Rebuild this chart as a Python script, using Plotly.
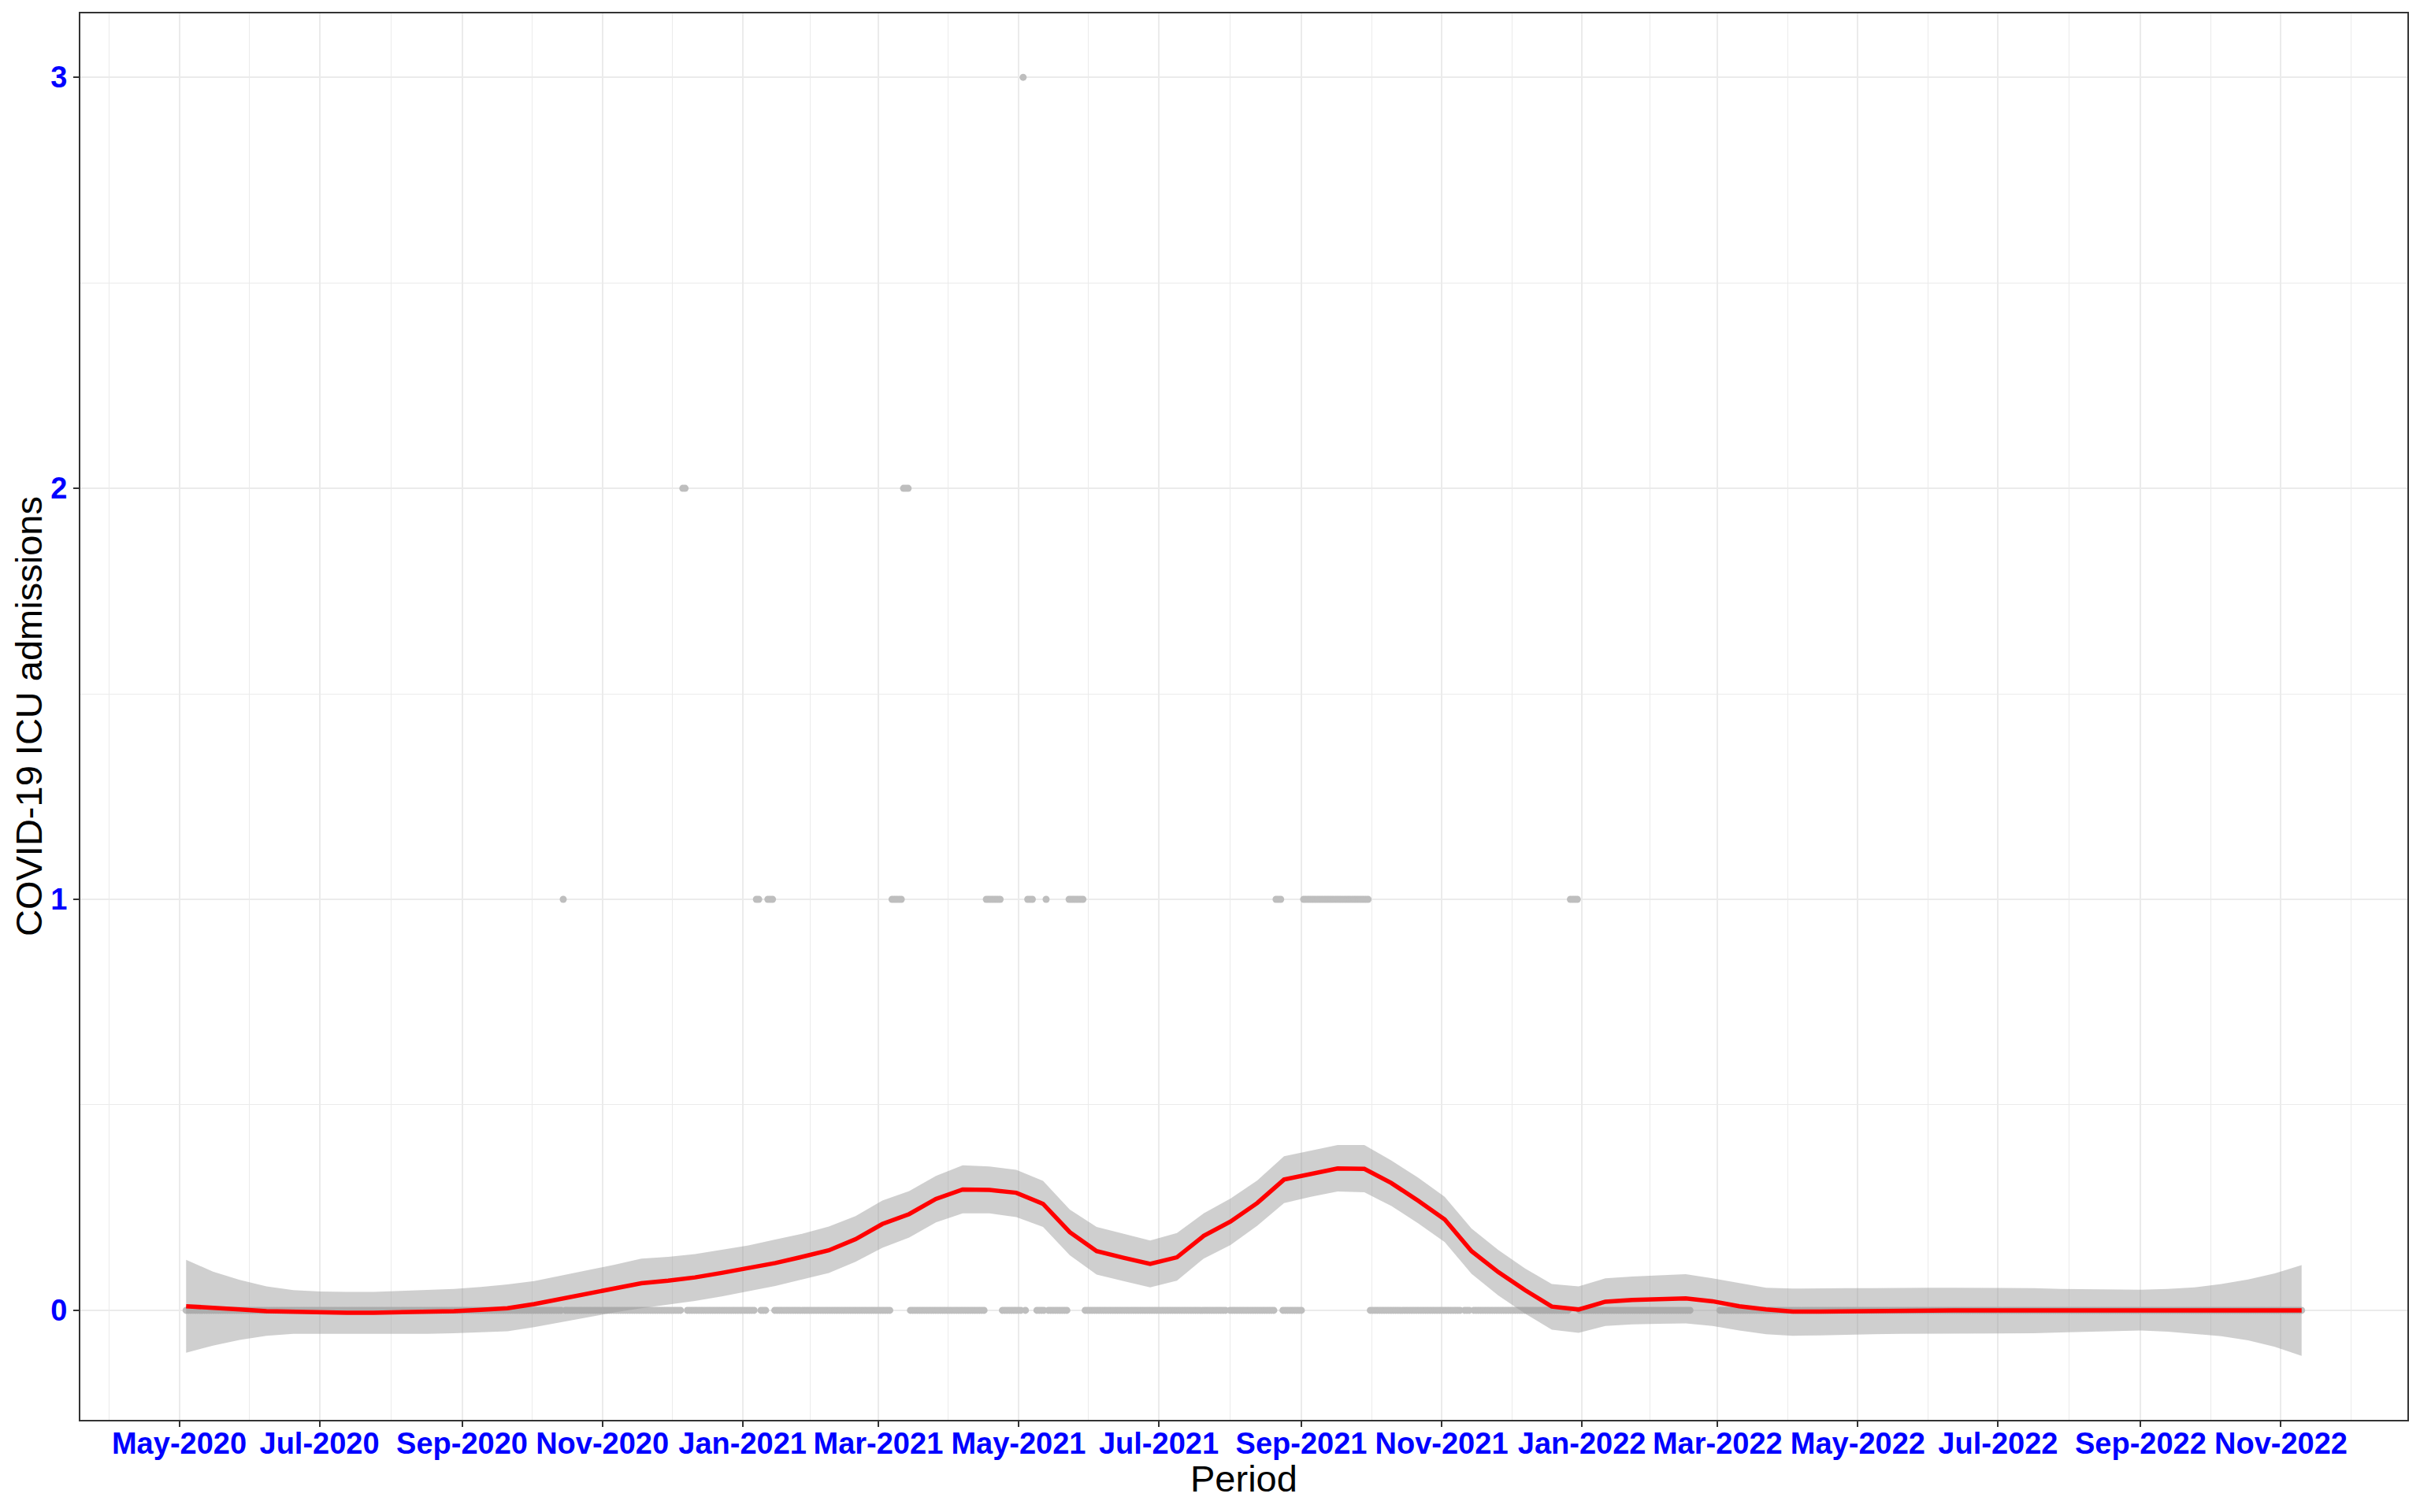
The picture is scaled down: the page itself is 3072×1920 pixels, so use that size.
import pandas as pd
import plotly.graph_objects as go

# ---------------- data ----------------
# Daily observations, given as runs of consecutive days with the same value
runs_start = ["2020-05-04", "2020-10-15", "2020-10-16", "2020-12-06", "2020-12-08",
              "2021-01-07", "2021-01-09", "2021-01-12", "2021-01-15", "2021-03-07",
              "2021-03-12", "2021-03-15", "2021-04-17", "2021-04-24", "2021-05-03",
              "2021-05-04", "2021-05-05", "2021-05-09", "2021-05-13", "2021-05-14",
              "2021-05-23", "2021-05-30", "2021-08-01", "2021-08-21", "2021-08-24",
              "2021-09-02", "2021-10-01", "2021-11-11", "2021-11-15", "2021-12-27",
              "2021-12-31", "2022-03-02"]
runs_end = ["2020-10-14", "2020-10-15", "2020-12-05", "2020-12-07", "2021-01-06",
            "2021-01-08", "2021-01-11", "2021-01-14", "2021-03-06", "2021-03-11",
            "2021-03-14", "2021-04-16", "2021-04-23", "2021-05-02", "2021-05-03",
            "2021-05-04", "2021-05-07", "2021-05-12", "2021-05-13", "2021-05-22",
            "2021-05-29", "2021-07-30", "2021-08-20", "2021-08-23", "2021-09-01",
            "2021-09-30", "2021-11-09", "2021-11-13", "2021-12-26", "2021-12-30",
            "2022-02-17", "2022-11-10"]
runs_value = [0, 1, 0, 2, 0,
              1, 0, 1, 0, 1,
              2, 0, 1, 0, 3,
              0, 1, 0, 1, 0,
              1, 0, 0, 1, 0,
              1, 0, 0, 0, 1,
              0, 0]

# Loess smooth (80 evaluation points between first and last date)
smooth_start = "2020-05-04"
smooth_end = "2022-11-10"
smooth_fit = [0.010, 0.005, 0.002, -0.002, -0.004, -0.005, -0.006, -0.006, -0.005, -0.004,
              -0.002, 0.001, 0.005, 0.015, 0.028, 0.040, 0.054, 0.066, 0.072, 0.080,
              0.091, 0.102, 0.115, 0.130, 0.146, 0.173, 0.210, 0.234, 0.271, 0.294,
              0.293, 0.286, 0.259, 0.190, 0.144, 0.128, 0.113, 0.129, 0.181, 0.216,
              0.261, 0.318, 0.332, 0.345, 0.344, 0.310, 0.267, 0.221, 0.144, 0.093,
              0.049, 0.009, 0.002, 0.021, 0.025, 0.027, 0.029, 0.022, 0.010, 0.002,
              -0.003, -0.003, -0.002, -0.002, -0.001, 0.000, 0.000, 0.000, 0.000, 0.000,
              0.000, 0.000, 0.000, 0.000, 0.000, 0.000, 0.000, 0.000, 0.000, 0.000]
smooth_lower = [-0.103, -0.086, -0.072, -0.062, -0.057, -0.057, -0.058, -0.058, -0.058, -0.057,
                -0.056, -0.054, -0.051, -0.041, -0.029, -0.017, -0.005, 0.005, 0.014, 0.023,
                0.034, 0.046, 0.059, 0.075, 0.091, 0.118, 0.152, 0.177, 0.214, 0.236,
                0.236, 0.227, 0.203, 0.134, 0.087, 0.071, 0.056, 0.072, 0.126, 0.159,
                0.206, 0.261, 0.276, 0.289, 0.287, 0.254, 0.212, 0.166, 0.089, 0.036,
                -0.008, -0.047, -0.055, -0.038, -0.034, -0.033, -0.032, -0.038, -0.049, -0.058,
                -0.062, -0.061, -0.059, -0.058, -0.057, -0.057, -0.057, -0.057, -0.057, -0.056,
                -0.054, -0.052, -0.050, -0.049, -0.052, -0.057, -0.063, -0.073, -0.089, -0.111]
smooth_upper = [0.123, 0.094, 0.074, 0.058, 0.049, 0.046, 0.045, 0.045, 0.047, 0.049,
                0.052, 0.057, 0.063, 0.071, 0.084, 0.097, 0.111, 0.126, 0.130, 0.137,
                0.148, 0.158, 0.172, 0.186, 0.204, 0.229, 0.267, 0.290, 0.327, 0.353,
                0.350, 0.342, 0.315, 0.245, 0.203, 0.187, 0.170, 0.188, 0.236, 0.272,
                0.316, 0.375, 0.389, 0.402, 0.402, 0.365, 0.323, 0.276, 0.199, 0.147,
                0.102, 0.064, 0.058, 0.078, 0.082, 0.085, 0.088, 0.078, 0.066, 0.055,
                0.053, 0.054, 0.054, 0.054, 0.055, 0.055, 0.055, 0.055, 0.054, 0.054,
                0.052, 0.051, 0.050, 0.050, 0.052, 0.056, 0.064, 0.075, 0.090, 0.110]

x_title = "Period"
y_title = "COVID-19 ICU admissions"
y_ticks = [0, 1, 2, 3]

# ---------------- build traces ----------------
pt_dates, pt_vals = [], []
for s, e, v in zip(runs_start, runs_end, runs_value):
    for d in pd.date_range(s, e, freq="D"):
        pt_dates.append(d)
        pt_vals.append(v)

sm_dates = pd.date_range(smooth_start, smooth_end, periods=len(smooth_fit))

fig = go.Figure()
fig.add_trace(go.Scatter(x=pt_dates, y=pt_vals, mode="markers",
                         marker=dict(color="#BEBEBE", size=9, line=dict(width=0)),
                         hoverinfo="x+y"))
fig.add_trace(go.Scatter(x=sm_dates, y=smooth_upper, mode="lines",
                         line=dict(width=0, color="rgba(0,0,0,0)"), hoverinfo="skip"))
fig.add_trace(go.Scatter(x=sm_dates, y=smooth_lower, mode="lines", fill="tonexty",
                         fillcolor="rgba(153,153,153,0.47)",
                         line=dict(width=0, color="rgba(0,0,0,0)"), hoverinfo="skip"))
fig.add_trace(go.Scatter(x=sm_dates, y=smooth_fit, mode="lines",
                         line=dict(color="#FF0000", width=5.5)))

# axis ranges with ggplot-like 5% expansion
d0 = pd.Timestamp(min(runs_start))
d1 = pd.Timestamp(max(runs_end))
span = d1 - d0
xr = [d0 - 0.05 * span, d1 + 0.05 * span]
ylo = min(min(smooth_lower), min(pt_vals))
yhi = max(max(smooth_upper), max(pt_vals))
yr = [ylo - 0.05 * (yhi - ylo), yhi + 0.05 * (yhi - ylo)]

majors = pd.date_range("2020-03-01", "2023-01-01", freq="2MS")
mids = [majors[i] + (majors[i + 1] - majors[i]) / 2 for i in range(len(majors) - 1)]

tickfont = dict(family="Liberation Sans, Arial, sans-serif", size=38, color="#0000FF", weight="bold")
grid = "#EBEBEB"
axcol = "#333333"

fig.update_xaxes(type="date", range=xr, tick0="2020-05-01", dtick="M2", tickformat="%b-%Y",
                 ticks="outside", ticklen=7, tickwidth=2, tickcolor=axcol,
                 ticklabelstandoff=-12,
                 showgrid=True, gridcolor=grid, gridwidth=2.2,
                 minor=dict(tickmode="array", tickvals=mids, showgrid=True,
                            gridcolor=grid, gridwidth=1.1, ticks=""),
                 showline=True, mirror=True, linecolor=axcol, linewidth=2,
                 zeroline=False, tickfont=tickfont)
fig.update_yaxes(range=yr, tickmode="array", tickvals=y_ticks,
                 ticks="outside", ticklen=7, tickwidth=2, tickcolor=axcol,
                 showgrid=True, gridcolor=grid, gridwidth=2.2,
                 minor=dict(tickmode="array", tickvals=[0.5, 1.5, 2.5], showgrid=True,
                            gridcolor=grid, gridwidth=1.1, ticks=""),
                 showline=True, mirror=True, linecolor=axcol, linewidth=2,
                 zeroline=False, tickfont=tickfont)

titlefont = dict(family="Liberation Sans, Arial, sans-serif", size=47, color="black")
# the page body adds an 8px offset, so the figure is 8px smaller and margins shifted
fig.update_layout(
    width=3064, height=1912,
    margin=dict(l=94, r=16, t=7, b=117),
    plot_bgcolor="white", paper_bgcolor="white",
    showlegend=False,
    annotations=[
        dict(text=x_title, xref="paper", yref="paper", x=0.5, y=0, xanchor="center",
             yanchor="top", yshift=-46, showarrow=False, font=titlefont),
        dict(text=y_title, xref="paper", yref="paper", x=0, y=0.5, xanchor="center",
             yanchor="middle", xshift=-66, textangle=-90, showarrow=False, font=titlefont),
    ],
)

fig.write_html("out.html")
